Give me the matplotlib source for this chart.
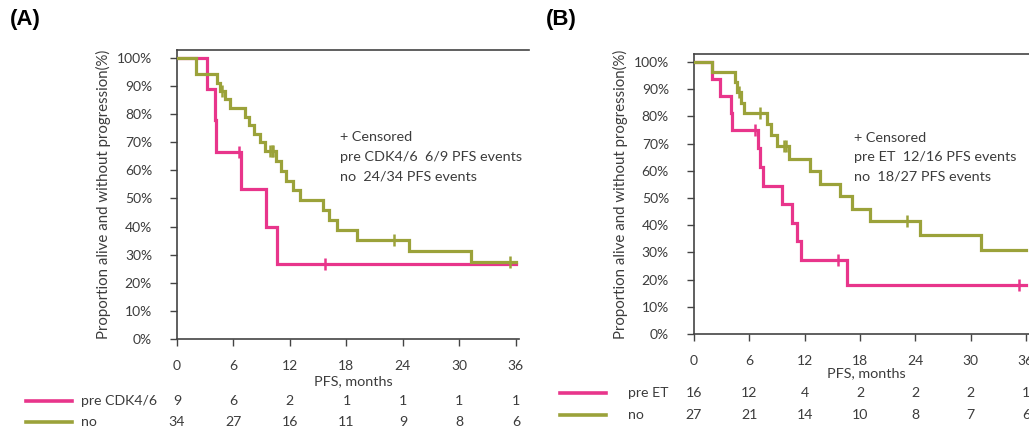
import numpy as np
import matplotlib
matplotlib.use("Agg")
import matplotlib.pyplot as plt
from matplotlib.lines import Line2D

plt.rcParams['font.family'] = ['Lato', 'DejaVu Sans']

PINK = '#E8358B'
OLIVE = '#9BA23A'
TEXT = '#3c3c3c'

month_ticks = [0, 6, 12, 18, 24, 30, 36]
pct_ticks = list(range(0, 101, 10))
pct_labels = [f'{p}%' for p in pct_ticks]

# Panel A: prior CDK4/6 inhibitor vs. none
a_pre_label = 'pre CDK4/6'
a_pre_n = 9
a_pre_events = [3.15, 4.0, 4.1, 6.8, 9.5, 10.65]
a_pre_censored = [6.6, 15.7]
a_pre_at_risk = [9, 6, 2, 1, 1, 1, 1]

a_no_label = 'no'
a_no_n = 34
a_no_events = [2.0, 2.0, 4.2, 4.6, 5.1, 5.6, 7.2, 7.7, 8.2, 8.8, 9.4,
               10.5, 11.0, 11.6, 12.3, 13.1, 15.5, 16.1, 17.0, 19.1,
               24.6, 31.2]
a_no_censored = [4.8, 9.9, 10.05, 10.2, 23.1, 35.4]
a_no_at_risk = [34, 27, 16, 11, 9, 8, 6]

a_notes = ['+ Censored', 'pre CDK4/6  6/9 PFS events', 'no  24/34 PFS events']

# Panel B: prior endocrine therapy vs. none
b_pre_label = 'pre ET'
b_pre_n = 16
b_pre_events = [1.9, 2.8, 4.05, 4.15, 6.9, 7.2, 7.5, 9.5, 10.6, 11.2,
                11.6, 16.6]
b_pre_censored = [6.6, 15.6, 35.3]
b_pre_at_risk = [16, 12, 4, 2, 2, 2, 1]

b_no_label = 'no'
b_no_n = 27
b_no_events = [1.9, 4.4, 4.7, 5.1, 5.4, 7.9, 8.4, 9.0, 10.3, 12.6, 13.7,
               15.8, 17.1, 19.1, 24.5, 31.1]
b_no_censored = [4.9, 7.2, 9.8, 10.0, 23.1]
b_no_at_risk = [27, 21, 14, 10, 8, 7, 6]

b_notes = ['+ Censored', 'pre ET  12/16 PFS events', 'no  18/27 PFS events']

T_END = 36.0


def kaplan_meier(n, events, censored, t_end):
    times = sorted(set(events) | set(censored))
    t, s = [0.0], [1.0]
    at_risk, surv = n, 1.0
    for tt in times:
        d = events.count(tt)
        c = censored.count(tt)
        if d:
            surv *= (at_risk - d) / at_risk
            t.append(tt)
            s.append(surv)
        at_risk -= d + c
    t.append(t_end)
    s.append(surv)
    return np.array(t), np.array(s) * 100


def value_at(t, s, x):
    idx = np.searchsorted(t, x, side='right') - 1
    return s[idx]


W, H = 1029, 430
fig = plt.figure(figsize=(W / 100, H / 100), dpi=100)


def px_box(left, top, right, bottom):
    return [left / W, 1 - bottom / H, (right - left) / W, (bottom - top) / H]


def draw_panel(ax, groups, rows, notes, ymax, xmax, ylabel_x,
               xlabel_y, row_y, swatch_x, rowlabel_x):
    for (n, ev, ce, color, z) in groups:
        t, s = kaplan_meier(n, ev, ce, T_END)
        ax.step(t, s, where='post', color=color, lw=2.3, zorder=z,
                solid_joinstyle='miter')
        cs = [value_at(t, s, c) for c in ce]
        ax.plot(ce, cs, ls='none', marker='|', ms=8, mew=1.8,
                color=color, zorder=z)
    ax.set_xlim(0, xmax)
    ax.set_ylim(0, ymax)
    ax.set_xticks(month_ticks)
    ax.set_xticklabels([str(m) for m in month_ticks])
    ax.set_yticks(pct_ticks)
    ax.set_yticklabels(pct_labels)
    ax.tick_params(direction='out', length=5, width=1.0, colors='#444444',
                   labelcolor=TEXT, labelsize=10)
    ax.tick_params(axis='y', pad=13)
    ax.tick_params(axis='x', pad=10)
    for side in ('left', 'top', 'bottom'):
        ax.spines[side].set_color('#444444')
        ax.spines[side].set_linewidth(1.2)
    ax.spines['right'].set_visible(False)
    ax.spines['bottom'].set_bounds(0, 36.3)

    for i, line in enumerate(notes):
        ax.text(17.3, 72 - 7.1 * i, line, fontsize=10.4, color=TEXT,
                va='center', ha='left')

    ax.text(ylabel_x, 0.5, 'Proportion alive and without progression(%)',
            transform=ax.transAxes, rotation=90, ha='center', va='center',
            fontsize=10.8, color=TEXT)

    xform = ax.get_xaxis_transform()
    bbox = ax.get_position()

    def ax_y(py):
        return ((1 - py / H) - bbox.y0) / bbox.height

    ax.text(0.5, ax_y(xlabel_y), 'PFS, months', transform=ax.transAxes,
            ha='center', va='center', fontsize=10.4, color=TEXT)

    for (label, risk, color), py in zip(rows, row_y):
        for m, r in zip(month_ticks, risk):
            ax.text(m, ax_y(py), str(r), transform=xform, ha='center',
                    va='center', fontsize=10.2, color=TEXT, clip_on=False)
        fig.text(rowlabel_x / W, 1 - py / H, label, ha='left', va='center',
                 fontsize=10.2, color=TEXT)
        fig.add_artist(Line2D([swatch_x[0] / W, swatch_x[1] / W],
                              [1 - py / H, 1 - py / H], color=color, lw=2.6,
                              transform=fig.transFigure))


# Panel A
axA = fig.add_axes(px_box(177, 50, 529, 339))
draw_panel(axA,
           [(a_pre_n, a_pre_events, a_pre_censored, PINK, 2),
            (a_no_n, a_no_events, a_no_censored, OLIVE, 3)],
           [(a_pre_label, a_pre_at_risk, PINK),
            (a_no_label, a_no_at_risk, OLIVE)],
           a_notes, ymax=102.8, xmax=37.4, ylabel_x=-0.21,
           xlabel_y=380.7, row_y=[401, 421.7], swatch_x=(26, 72),
           rowlabel_x=81)

# Panel B
axB = fig.add_axes(px_box(694, 54, 694 + 37.4 * 9.22, 334))
draw_panel(axB,
           [(b_pre_n, b_pre_events, b_pre_censored, PINK, 2),
            (b_no_n, b_no_events, b_no_censored, OLIVE, 3)],
           [(b_pre_label, b_pre_at_risk, PINK),
            (b_no_label, b_no_at_risk, OLIVE)],
           b_notes, ymax=102.9, xmax=37.4, ylabel_x=-0.2146,
           xlabel_y=373.3, row_y=[393.3, 415], swatch_x=(560, 606),
           rowlabel_x=628)

fig.text(10 / W, 1 - 20 / H, '(A)', fontsize=16, fontweight='bold',
         family=['Liberation Sans', 'DejaVu Sans'],
         ha='left', va='center', color='black')
fig.text(546 / W, 1 - 20 / H, '(B)', fontsize=16, fontweight='bold',
         family=['Liberation Sans', 'DejaVu Sans'],
         ha='left', va='center', color='black')

fig.savefig('out.png', dpi=100)
